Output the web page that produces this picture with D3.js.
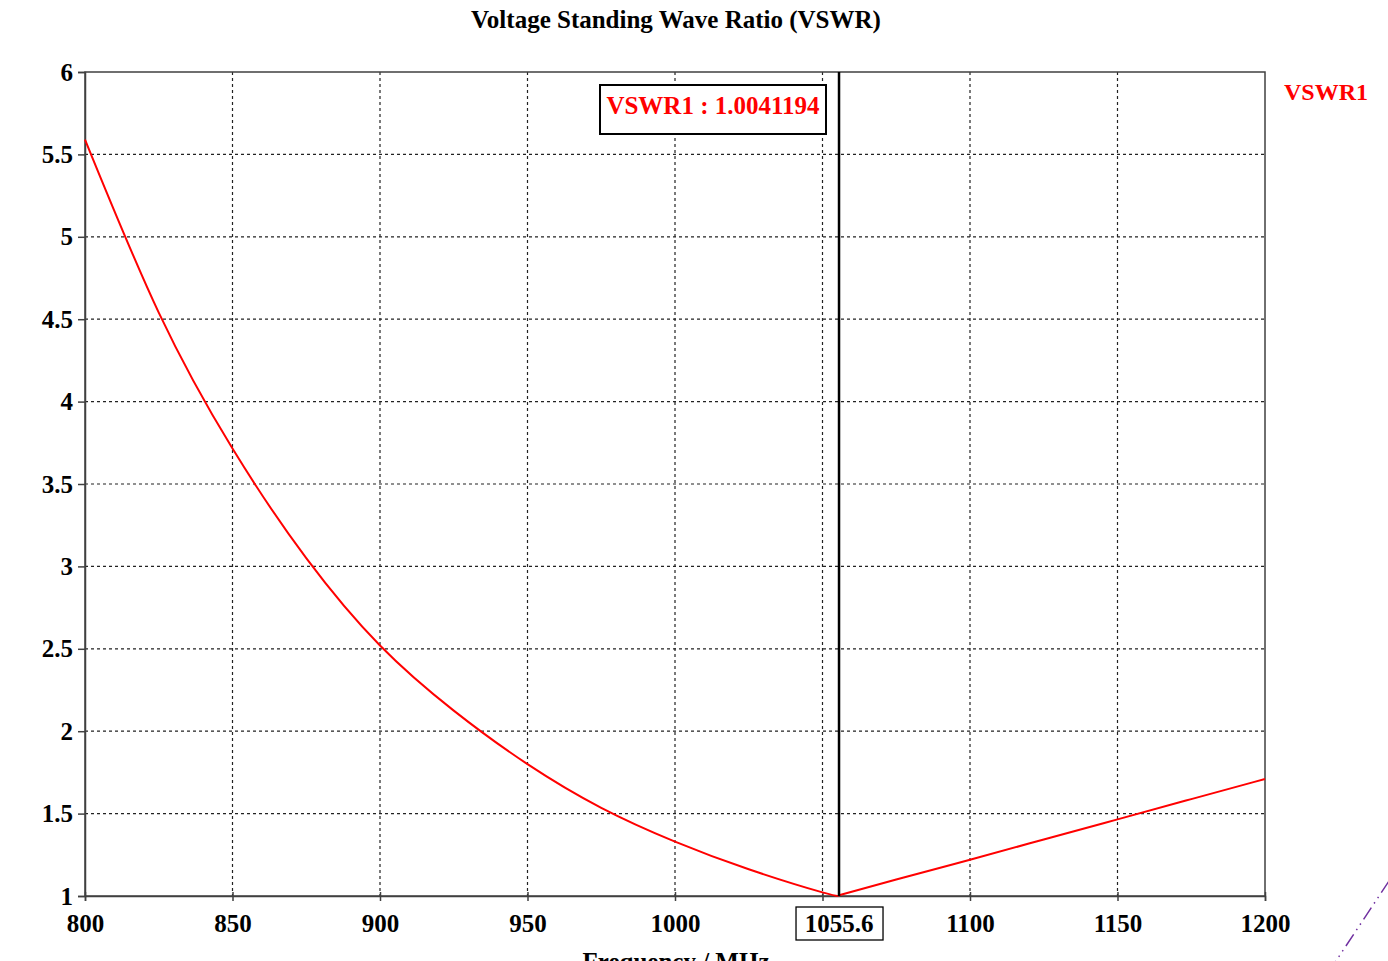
<!DOCTYPE html>
<html>
<head>
<meta charset="utf-8">
<script src="https://cdn.jsdelivr.net/npm/d3@7"></script>
<style>
  html, body { margin: 0; padding: 0; background: #fff; }
  svg { display: block; }
  text { font-family: "Liberation Serif", "Times New Roman", serif; font-weight: bold; }
</style>
</head>
<body>
<svg id="chart" width="1388" height="961"></svg>
<script>
// VSWR sweep, frequency in MHz
const freqs = [800, 825, 850, 875, 900, 925, 950, 975, 1000, 1025, 1050, 1055.6, 1075, 1100, 1125, 1150, 1175, 1200];
const vswr  = [5.59, 4.54, 3.715, 3.05, 2.52, 2.125, 1.80, 1.535, 1.33, 1.162, 1.022, 1.0041194, 1.10, 1.22, 1.343, 1.465, 1.588, 1.71];

const xTicks = [800, 850, 900, 950, 1000, 1050, 1100, 1150, 1200];
const yTicks = [1, 1.5, 2, 2.5, 3, 3.5, 4, 4.5, 5, 5.5, 6];

const markerFreq = 1055.6;
const markerValue = 1.0041194;
const seriesName = "VSWR1";
const titleText = "Voltage Standing Wave Ratio (VSWR)";
const xTitle = "Frequency / MHz";

const svg = d3.select("#chart");
const plotL = 85, plotR = 1265, plotT = 72, plotB = 896;
const fs = 25;

const x = d3.scaleLinear().domain([800, 1200]).range([plotL, plotR]);
const y = d3.scaleLinear().domain([1, 6]).range([plotB, plotT]);

const axisColor = "#404040";

// grid
const grid = svg.append("g");
grid.selectAll("line.v").data(xTicks.slice(1, -1)).join("line")
  .attr("x1", d => x(d)).attr("x2", d => x(d))
  .attr("y1", plotT).attr("y2", plotB)
  .attr("stroke", "#222").attr("stroke-width", 1.2).attr("stroke-dasharray", "3,3");
grid.selectAll("line.h").data(yTicks.slice(1, -1)).join("line")
  .attr("x1", plotL).attr("x2", plotR)
  .attr("y1", d => y(d)).attr("y2", d => y(d))
  .attr("stroke", "#222").attr("stroke-width", 1.2).attr("stroke-dasharray", "3,3");

// frame
svg.append("rect").attr("x", plotL).attr("y", plotT)
  .attr("width", plotR - plotL).attr("height", plotB - plotT)
  .attr("fill", "none").attr("stroke", axisColor).attr("stroke-width", 1.5);

// y axis
const yAxis = d3.axisLeft(y).tickValues(yTicks).tickSize(7).tickPadding(5).tickFormat(d3.format("~g"));
const gy = svg.append("g").attr("transform", `translate(${plotL},0)`).call(yAxis);
gy.select(".domain").attr("stroke", axisColor).attr("stroke-width", 1.5);
gy.selectAll(".tick line").attr("stroke", axisColor).attr("stroke-width", 1.5);
gy.selectAll(".tick text").attr("font-size", fs).attr("fill", "#000")
  .attr("font-family", "Liberation Serif").attr("font-weight", "bold");

// x axis (tick marks straddle the axis line)
const xAxis = d3.axisBottom(x).tickValues(xTicks).tickSize(5).tickPadding(13)
  .tickFormat(d => d === 1050 ? "" : d3.format("d")(d));
const gx = svg.append("g").attr("transform", `translate(0,${plotB})`).call(xAxis);
gx.select(".domain").attr("stroke", axisColor).attr("stroke-width", 1.5);
gx.selectAll(".tick line").attr("y1", -4).attr("stroke", axisColor).attr("stroke-width", 1.5);
gx.selectAll(".tick text").attr("font-size", fs).attr("fill", "#000")
  .attr("font-family", "Liberation Serif").attr("font-weight", "bold");

// curve: two smooth branches meeting at the marker minimum
const pts = freqs.map((f, i) => [f, vswr[i]]);
const lineGen = d3.line().x(d => x(d[0])).y(d => y(d[1])).curve(d3.curveNatural);
const leftBranch = pts.filter(d => d[0] <= markerFreq);
const rightBranch = pts.filter(d => d[0] >= markerFreq);
[leftBranch, rightBranch].forEach(br => {
  svg.append("path").attr("d", lineGen(br))
    .attr("fill", "none").attr("stroke", "#ff0000").attr("stroke-width", 2);
});

// marker cursor
svg.append("line")
  .attr("x1", x(markerFreq)).attr("x2", x(markerFreq))
  .attr("y1", plotT).attr("y2", plotB)
  .attr("stroke", "#000").attr("stroke-width", 2.5);

// marker value readout
const readout = svg.append("g");
readout.append("rect").attr("x", 600).attr("y", 85).attr("width", 226).attr("height", 49)
  .attr("fill", "#fff").attr("stroke", "#000").attr("stroke-width", 2);
readout.append("text").attr("x", 713).attr("y", 114)
  .attr("text-anchor", "middle").attr("font-size", fs).attr("fill", "#ff0000")
  .text(`${seriesName} : ${markerValue}`);

// marker frequency label on x axis
const mlab = svg.append("g");
mlab.append("rect").attr("x", x(markerFreq) - 43).attr("y", 907).attr("width", 87).attr("height", 33)
  .attr("fill", "#fff").attr("stroke", "#000").attr("stroke-width", 1.3);
mlab.append("text").attr("x", x(markerFreq)).attr("y", 932)
  .attr("text-anchor", "middle").attr("font-size", fs).attr("fill", "#000")
  .text(d3.format(".1f")(markerFreq));

// title
svg.append("text").attr("x", 676).attr("y", 28).attr("text-anchor", "middle")
  .attr("font-size", fs).attr("fill", "#000").text(titleText);

// legend
svg.append("text").attr("x", 1284).attr("y", 100).attr("font-size", 24)
  .attr("fill", "#ff0000").text(seriesName);

// x axis title (runs off the bottom edge)
svg.append("text").attr("x", 676).attr("y", 970).attr("text-anchor", "middle")
  .attr("font-size", fs).attr("fill", "#000").text(xTitle);

// purple dash-dot stroke at the lower right
svg.append("line").attr("x1", 1389).attr("y1", 881).attr("x2", 1334).attr("y2", 964)
  .attr("stroke", "#7030a0").attr("stroke-width", 1.5)
  .attr("stroke-dasharray", "14,5,1.5,5,1.5,5");
</script>
</body>
</html>
